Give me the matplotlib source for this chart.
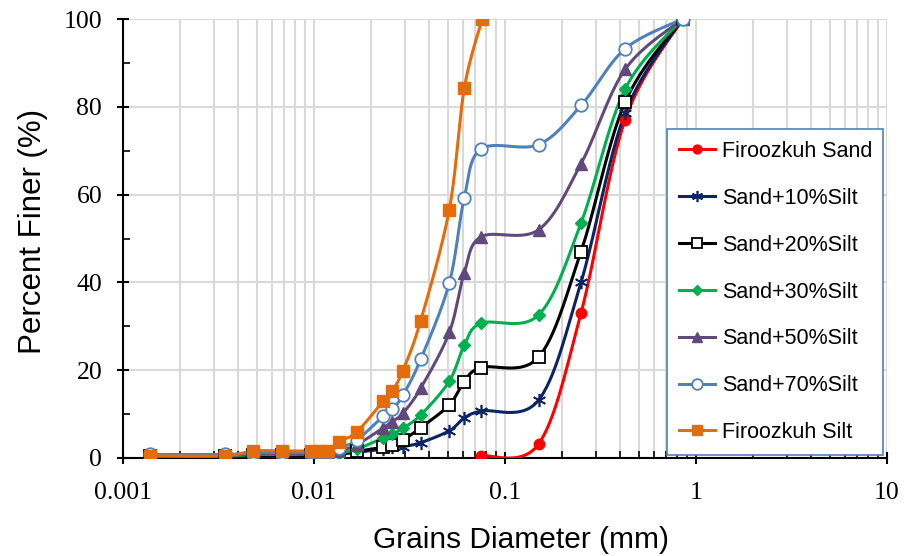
import numpy as np
import matplotlib
matplotlib.use("Agg")
import matplotlib.pyplot as plt
from matplotlib.lines import Line2D
from matplotlib.ticker import LogLocator, FixedLocator, NullFormatter

# ---------------- data ----------------
series_names = ["Firoozkuh Sand", "Sand+10%Silt", "Sand+20%Silt", "Sand+30%Silt",
                "Sand+50%Silt", "Sand+70%Silt", "Firoozkuh Silt"]

sand_d = [0.075, 0.15, 0.25, 0.425, 0.85]
sand_p = [0.5, 3.2, 33.0, 77.0, 100.0]

mix_d = [0.00138, 0.0034, 0.0048, 0.0068, 0.0096, 0.0107, 0.0119, 0.0135, 0.0167,
         0.0231, 0.0257, 0.0292, 0.0362, 0.0511, 0.0612, 0.075, 0.15, 0.25, 0.425, 0.85]
s10_p = [0.3, 0.3, 0.4, 0.4, 0.5, 0.5, 0.5, 0.8, 1.3, 2.0, 2.4, 2.6, 3.5, 6.2, 9.1, 10.7, 13.2, 40.0, 78.5, 100.0]
s20_p = [0.4, 0.4, 0.6, 0.6, 0.7, 0.7, 0.7, 1.0, 1.5, 2.5, 3.0, 4.1, 6.9, 12.1, 17.4, 20.6, 23.0, 47.0, 81.0, 100.0]
s30_p = [0.4, 0.4, 0.8, 0.8, 0.9, 0.9, 0.9, 1.2, 2.0, 4.6, 5.4, 6.8, 9.8, 17.5, 25.7, 30.7, 32.6, 53.5, 84.0, 100.0]
s50_p = [0.5, 0.5, 1.0, 1.0, 1.1, 1.1, 1.1, 1.6, 3.0, 6.9, 8.3, 10.2, 15.9, 28.6, 42.2, 50.4, 52.0, 67.0, 88.5, 100.0]
s70_p = [0.8, 0.8, 1.2, 1.2, 1.3, 1.3, 1.3, 2.3, 4.0, 9.6, 11.1, 14.3, 22.5, 39.9, 59.3, 70.4, 71.4, 80.3, 93.2, 100.0]

silt_d = [0.00138, 0.0034, 0.0048, 0.0068, 0.0096, 0.0107, 0.0119, 0.0135, 0.0167,
          0.0231, 0.0257, 0.0292, 0.0362, 0.0511, 0.0612, 0.076]
silt_p = [0.5, 0.5, 1.6, 1.6, 1.6, 1.6, 1.6, 3.7, 5.9, 13.0, 15.3, 19.9, 31.3, 56.6, 84.2, 100.0]

x_ticks = [0.001, 0.01, 0.1, 1, 10]
x_tick_labels = ["0.001", "0.01", "0.1", "1", "10"]
y_ticks = [0, 20, 40, 60, 80, 100]

# ---------------- styles ----------------
styles = [
    dict(color="#FF0000", marker="o", ms=7.5, mfc="#FF0000", mec="#FF0000", mew=1.0),
    dict(color="#0B2465", marker=(6, 2, 0), ms=9.5, mfc="#0B2465", mec="#0B2465", mew=1.2),
    dict(color="#000000", marker="s", ms=8, mfc="white", mec="#000000", mew=1.3),
    dict(color="#00B050", marker="D", ms=6.5, mfc="#00B050", mec="#00B050", mew=1.0),
    dict(color="#604A7B", marker="^", ms=8, mfc="#604A7B", mec="#604A7B", mew=1.0),
    dict(color="#4F81BD", marker="o", ms=9, mfc="white", mec="#4F81BD", mew=1.3),
    dict(color="#E46C0A", marker="s", ms=8.5, mfc="#E46C0A", mec="#E46C0A", mew=1.0),
]
data = [(sand_d, sand_p), (mix_d, s10_p), (mix_d, s20_p), (mix_d, s30_p),
        (mix_d, s50_p), (mix_d, s70_p), (silt_d, silt_p)]


def smooth_curve(xd, yd, n=30):
    """Excel-like smoothed line (uniform Catmull-Rom Bezier) in log-x space."""
    u = np.log10(np.asarray(xd, float))
    v = np.asarray(yd, float)
    P = np.column_stack([u, v])
    Pe = np.vstack([P[0], P, P[-1]])
    out = []
    t = np.linspace(0, 1, n)[:, None]
    for i in range(len(P) - 1):
        p0, p1, p2, p3 = Pe[i], Pe[i + 1], Pe[i + 2], Pe[i + 3]
        b0 = p1
        b1 = p1 + (p2 - p0) / 6.0
        b2 = p2 - (p3 - p1) / 6.0
        b3 = p2
        seg = ((1 - t) ** 3) * b0 + 3 * ((1 - t) ** 2) * t * b1 + 3 * (1 - t) * t ** 2 * b2 + t ** 3 * b3
        out.append(seg if i == 0 else seg[1:])
    c = np.vstack(out)
    return 10 ** c[:, 0], c[:, 1]


fig = plt.figure(figsize=(9.17, 5.56), dpi=100)
ax = fig.add_axes([123 / 917, 1 - 458 / 556, 764 / 917, 439 / 556])

ax.set_xscale("log")
ax.set_xlim(0.001, 10)
ax.set_ylim(0, 100)

lw = 2.2
handles = []
for (xd, yd), st, name in zip(data, styles, series_names):
    xs, ys = smooth_curve(xd, yd)
    ax.plot(xs, ys, color=st["color"], lw=lw, zorder=3, solid_capstyle="round")
    ax.plot(xd, yd, ls="none", marker=st["marker"], ms=st["ms"], mfc=st["mfc"],
            mec=st["mec"], mew=st["mew"], zorder=4)
    handles.append(Line2D([0], [0], color=st["color"], lw=lw, marker=st["marker"],
                          ms=st["ms"] * 0.85, mfc=st["mfc"], mec=st["mec"], mew=st["mew"]))

# grid
ax.xaxis.set_major_locator(FixedLocator(x_ticks))
ax.xaxis.set_minor_locator(LogLocator(base=10, subs=np.arange(2, 10), numticks=20))
ax.xaxis.set_minor_formatter(NullFormatter())
ax.set_xticklabels(x_tick_labels)
ax.yaxis.set_major_locator(FixedLocator(y_ticks))
ax.yaxis.set_minor_locator(FixedLocator([10, 30, 50, 70, 90]))
ax.grid(True, which="major", axis="both", color="#D9D9D9", lw=1.5, zorder=0)
ax.grid(True, which="minor", axis="x", color="#D9D9D9", lw=1.5, zorder=0)
ax.set_axisbelow(True)

for s in ["top", "right"]:
    ax.spines[s].set_visible(False)
for s in ["left", "bottom"]:
    ax.spines[s].set_color("black")
    ax.spines[s].set_linewidth(1.5)

ax.tick_params(axis="both", which="major", direction="inout", length=8, width=1.5,
               labelsize=18.5, pad=6)
ax.tick_params(axis="both", which="minor", direction="in", length=5, width=1.2)
for lab in ax.get_xticklabels() + ax.get_yticklabels():
    lab.set_fontfamily("Liberation Serif")
ax.tick_params(axis="x", which="major", pad=13)
ax.tick_params(axis="y", which="major", pad=11)

ax.set_xlabel("Grains Diameter (mm)", fontsize=21.5, family="Liberation Sans")
ax.set_ylabel("Percent Finer (%)", fontsize=22.5, family="Liberation Sans")
ax.xaxis.set_label_coords((521 - 123) / 764, -(540 - 458) / 439)
ax.xaxis.label.set_va("center")
ax.yaxis.set_label_coords(-(123 - 33) / 764, (458 - 231) / 439)
ax.yaxis.label.set_va("center")

leg = ax.legend(handles, series_names, loc="upper left",
                bbox_to_anchor=(0.712, 0.0205, 0.283, 0.7285), mode="expand",
                prop={"family": "Liberation Sans", "size": 15.5},
                frameon=True, fancybox=False, framealpha=1, edgecolor="#4F81BD",
                handlelength=1.7, handletextpad=0.3, labelspacing=1.2,
                borderpad=0.55, borderaxespad=0)
leg.get_frame().set_linewidth(1.2)
leg.set_zorder(10)

fig.savefig("out.png", dpi=100)
